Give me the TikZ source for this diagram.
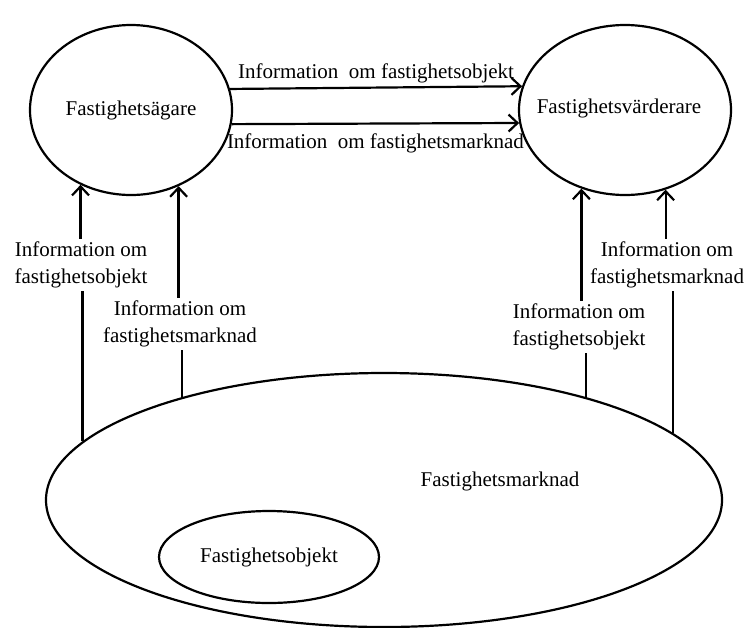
\documentclass[tikz,border=0pt]{standalone}
\usepackage{fontspec}
\setmainfont{Liberation Serif}
\usetikzlibrary{shapes.geometric,arrows.meta}

\begin{document}
\begin{tikzpicture}[x=1pt,y=-1pt,line width=2.2pt,font=\fontsize{21}{27}\selectfont,
  party/.style={draw,ellipse,inner sep=0pt},
  info/.style={align=center,inner sep=2pt},
  flow/.style={-{Straight Barb[length=9pt,width=17pt,line width=2.2pt]}}]
  \useasboundingbox (0,0) rectangle (746,627);
  \node[party,minimum width=202,minimum height=170] (owner) at (131,110) {Fastighetsägare};
  \node[party,minimum width=212,minimum height=170] (valuer) at (625,110) {};
  \node (valuertxt) at (619,108) {Fastighetsvärderare};
  \node[party,minimum width=676,minimum height=254] (market) at (384,500) {};
  \node (markettxt) at (500,481) {Fastighetsmarknad};
  \node[party,minimum width=220,minimum height=92] (object) at (269,557) {Fastighetsobjekt};
  \draw[flow] (owner.12.7) -- (valuer.167.9)
    node[midway,above=3pt,inner sep=0pt] (topinfo) {Information\ \ om fastighetsobjekt};
  \draw[flow] (owner.352.6) -- (valuer.187.1)
    node[midway,below=9pt,inner sep=0pt] (botinfo) {Information\ \ om fastighetsmarknad};
  \node[info] (objleft) at (81,265) {Information om\\fastighetsobjekt};
  \node[info] (mktleft) at (180,324) {Information om\\fastighetsmarknad};
  \node[info] (objright) at (579,327) {Information om\\fastighetsobjekt};
  \node[info] (mktright) at (667,265) {Information om\\fastighetsmarknad};
  \draw (market.169.3) -- (market.169.3 |- objleft.south);
  \draw[flow] (owner.236.6 |- objleft.north) -- (owner.236.6);
  \draw (market.153.9) -- (market.153.9 |- mktleft.south);
  \draw[flow] (owner.302 |- mktleft.north) -- (owner.302);
  \draw (market.27.5) -- (market.27.5 |- objright.south);
  \draw[flow] (valuer.241 |- objright.north) -- (valuer.241);
  \draw (market.13.9) -- (market.13.9 |- mktright.south);
  \draw[flow] (valuer.297.6 |- mktright.north) -- (valuer.297.6);
\end{tikzpicture}
\end{document}
